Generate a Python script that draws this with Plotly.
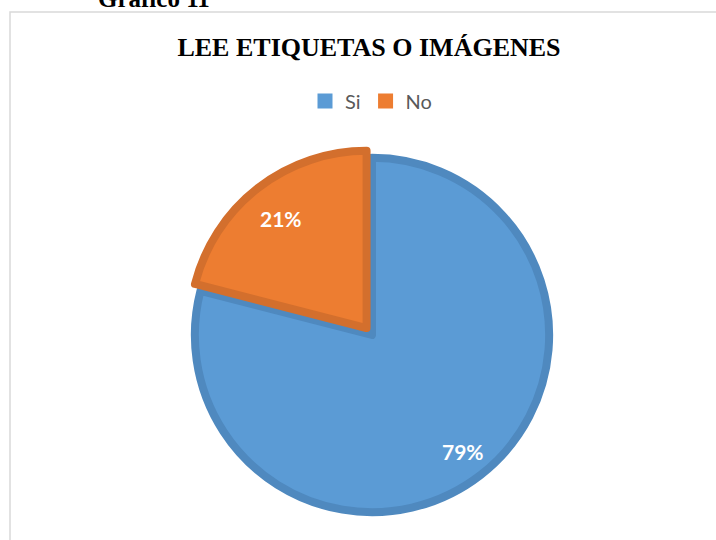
import math
import plotly.graph_objects as go

# ---- data ----
categories = ["Si", "No"]
values = [79, 21]
chart_title = "LEE ETIQUETAS O IMÁGENES"
caption = "Gráfico 11"

# ---- styles ----
fill_colors = ["#5B9BD5", "#ED7D31"]
line_colors = ["#4F89BF", "#D36F2D"]

W, H = 716, 540
cx, cy, R = 372, 335, 186  # pixel center / domain half-size
pull = [0, 0.05]
line_w = 8

fig = go.Figure()
fig.add_trace(go.Pie(
    labels=categories,
    values=values,
    sort=False,
    direction="clockwise",
    rotation=0,
    pull=pull,
    marker=dict(colors=fill_colors, line=dict(color=line_colors, width=line_w)),
    textinfo="none",
    showlegend=False,
    domain=dict(x=[(cx - R) / W, (cx + R) / W], y=[(H - cy - R) / H, (H - cy + R) / H]),
    hoverinfo="label+percent",
))

# legend entries (flat squares like the original)
for name, col in zip(categories, fill_colors):
    fig.add_trace(go.Scatter(
        x=[None], y=[None], mode="markers", name=name,
        marker=dict(symbol="square", size=15, color=col),
        hoverinfo="skip",
    ))

# percentage labels placed along each slice bisector
total = sum(values)
r_eff = R / (1 + max(pull))
annotations = []
cum = 0
for v in values:
    mid = (cum + v / 2) / total * 2 * math.pi  # clockwise from 12 o'clock
    cum += v
    px = cx + 0.835 * r_eff * math.sin(mid)
    py = cy - 0.835 * r_eff * math.cos(mid)
    annotations.append(dict(
        text="<b>%d%%</b>" % round(100 * v / total),
        xref="paper", yref="paper", x=px / W, y=1 - py / H,
        xanchor="center", yanchor="middle", showarrow=False,
        font=dict(family="Lato", size=21, color="white"),
    ))

annotations.append(dict(
    text="<b>" + caption + "</b>",
    xref="paper", yref="paper",
    x=154 / W, xanchor="center",
    y=1 - 14 / H, yanchor="bottom",
    showarrow=False,
    font=dict(family="Liberation Serif", size=25, color="#000000"),
))

fig.update_layout(
    width=W, height=H,
    margin=dict(l=0, r=0, t=0, b=0),
    paper_bgcolor="white",
    plot_bgcolor="white",
    xaxis=dict(visible=False),
    yaxis=dict(visible=False),
    title=dict(
        text="<b>" + chart_title + "</b>",
        x=369 / W, xanchor="center",
        y=1 - 47 / H, yanchor="middle",
        font=dict(family="Liberation Serif", size=26, color="#000000"),
    ),
    legend=dict(
        orientation="h",
        x=371 / W, xanchor="center",
        y=1 - 101 / H, yanchor="middle",
        font=dict(family="Lato", size=20, color="#595959"),
        itemwidth=30,
        traceorder="normal",
    ),
    shapes=[dict(
        type="rect", xref="paper", yref="paper",
        x0=10 / W, x1=1.02, y0=-0.02, y1=1 - 12 / H,
        line=dict(color="#D9D9D9", width=1.5),
        fillcolor="rgba(0,0,0,0)", layer="below",
    )],
    annotations=annotations,
)

fig.write_html("out.html", config={"displayModeBar": False},
               post_script="document.body.style.margin='0';")
